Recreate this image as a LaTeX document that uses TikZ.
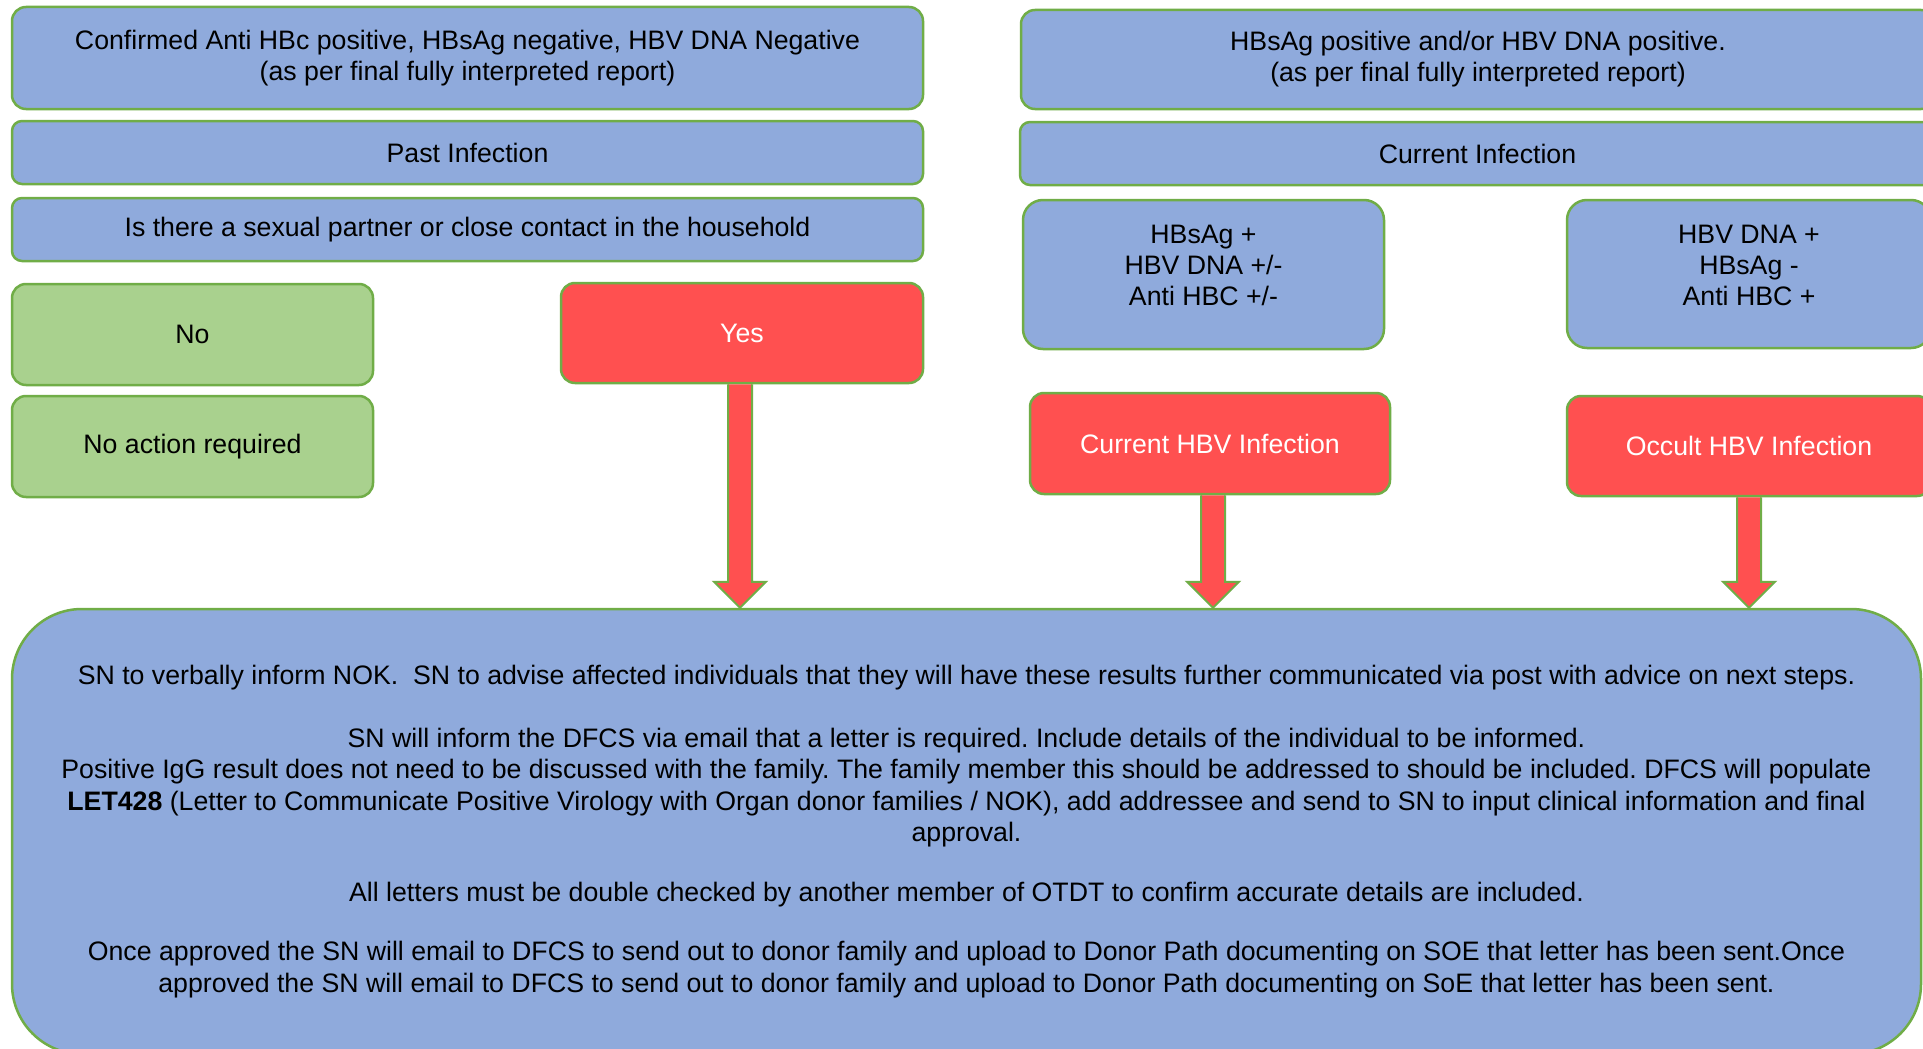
\documentclass[tikz,border=0pt]{standalone}
\usepackage{fontspec}
\setmainfont{Liberation Sans}
\usetikzlibrary{calc}
\frenchspacing

\definecolor{boxblue}{RGB}{143,170,220}
\definecolor{boxgreen}{RGB}{169,209,142}
\definecolor{boxred}{RGB}{255,80,80}
\definecolor{edgegreen}{RGB}{112,173,71}

% block arrow from the bottom of a box down to the notes box
\newcommand{\downblock}[2]{%
    \filldraw[blockarrow] ($(#1)+(-12,0)$) -- ($(#1 |- #2)+(-12,-26)$) -- ($(#1 |- #2)+(-26,-26)$)
        -- (#1 |- #2) -- ($(#1 |- #2)+(26,-26)$) -- ($(#1 |- #2)+(12,-26)$) -- ($(#1)+(12,0)$);}

\begin{document}
\begin{tikzpicture}[x=1pt, y=-1pt,
    box/.style = {draw=edgegreen, line width=2.5pt, fill=boxblue, rounded corners=14pt,
        align=center, inner sep=0pt, font=\fontsize{26.7}{31}\selectfont},
    greenbox/.style = {box, fill=boxgreen},
    redbox/.style = {box, fill=boxred, text=white},
    blockarrow/.style = {draw=edgegreen, line width=2pt, fill=boxred, line join=miter}]
    \useasboundingbox (0,0) rectangle (1923,1049);
    \clip (0,0) rectangle (1923,1049);
    \fill[white] (0,0) rectangle (1923,1049);

    % past infection side
    \node[box, minimum width=911pt, minimum height=102pt] (confirmed) at (467.5,58)
        {Confirmed Anti HBc positive, HBsAg negative, HBV DNA Negative\\(as per final fully interpreted report)};
    \node[box, rounded corners=10pt, minimum width=911pt, minimum height=63pt] (past) at (467.5,152.5) {Past Infection};
    \node[box, rounded corners=10pt, minimum width=911pt, minimum height=63pt] (contact) at (467.5,229.5)
        {Is there a sexual partner or close contact in the household};
    \node[greenbox, minimum width=361pt, minimum height=101pt] (no) at (192.5,334.5) {No};
    \node[greenbox, minimum width=361pt, minimum height=101pt] (noaction) at (192.5,446.5) {No action required};
    \node[redbox, minimum width=362pt, minimum height=100pt] (yes) at (742,333) {Yes};

    % current infection side
    \node[box, minimum width=914pt, minimum height=99pt] (positive) at (1478,59.5)
        {HBsAg positive and/or HBV DNA positive.\\(as per final fully interpreted report)};
    \node[box, rounded corners=10pt, minimum width=915pt, minimum height=63pt] (current) at (1477.5,153.5) {Current Infection};
    \node[box, rounded corners=20pt, minimum width=361pt, minimum height=149pt] (hbsag) at (1203.5,274.5) {};
    \node[align=center, font=\fontsize{26.7}{31}\selectfont] (hbsagtxt) at ([yshift=9pt]hbsag.center)
        {HBsAg +\\HBV DNA +/-\\Anti HBC +/-};
    \node[box, rounded corners=20pt, minimum width=364pt, minimum height=148pt] (hbvdna) at (1749,274) {};
    \node[align=center, font=\fontsize{26.7}{31}\selectfont] (hbvdnatxt) at ([yshift=9pt]hbvdna.center)
        {HBV DNA +\\HBsAg -\\Anti HBC +};
    \node[redbox, minimum width=360pt, minimum height=101pt] (currenthbv) at (1210,443.5) {Current HBV Infection};
    \node[redbox, minimum width=364pt, minimum height=100pt] (occult) at (1749,446) {Occult HBV Infection};

    % what to do next
    \node[box, rounded corners=70pt, minimum width=1909pt, minimum height=445pt,
        font=\fontsize{26.7}{31.5}\selectfont] (notes) at (966.5,831.5)
        {SN to verbally inform NOK.~ SN to advise affected individuals that they will have these results further communicated via post with advice on next steps.\\[31pt]
        SN will inform the DFCS via email that a letter is required. Include details of the individual to be informed.\\
        Positive IgG result does not need to be discussed with the family. The family member this should be addressed to should be included. DFCS will populate\\
        \textbf{LET428} (Letter to Communicate Positive Virology with Organ donor families / NOK), add addressee and send to SN to input clinical information and final\\
        approval.\\[28pt]
        All letters must be double checked by another member of OTDT to confirm accurate details are included.\\[28pt]
        Once approved the SN will email to DFCS to send out to donor family and upload to Donor Path documenting on SOE that letter has been sent.Once\\
        approved the SN will email to DFCS to send out to donor family and upload to Donor Path documenting on SoE that letter has been sent.};

    \downblock{[xshift=-2pt]yes.south}{notes.north}
    \downblock{[xshift=3pt]currenthbv.south}{notes.north}
    \downblock{occult.south}{notes.north}
\end{tikzpicture}
\end{document}
